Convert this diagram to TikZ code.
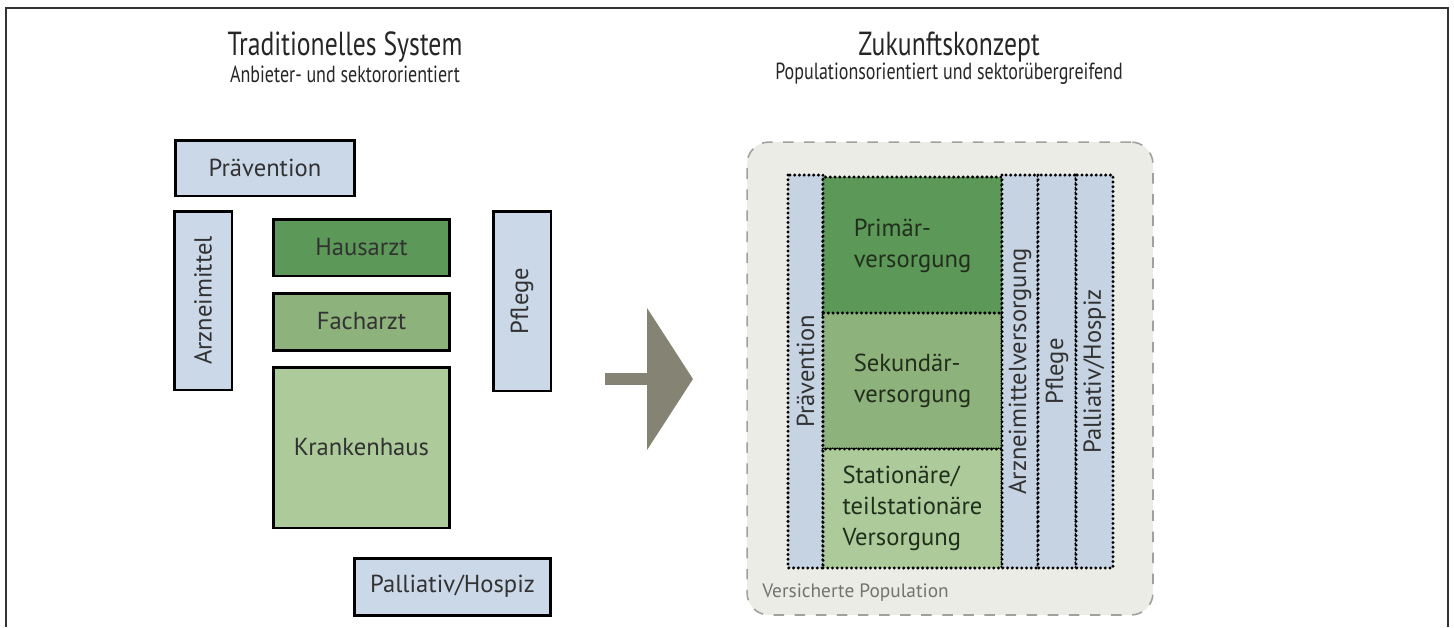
\documentclass[tikz,border=0pt]{standalone}
\usepackage{fontspec}
\setmainfont{PT Sans}
\newfontfamily\narrowfont[FakeStretch=0.77]{PT Sans}
\usepackage{xcolor}
\usetikzlibrary{arrows.meta}
\definecolor{boxblue}{RGB}{203,216,232}
\definecolor{colblue}{RGB}{198,211,226}
\definecolor{darkgreen}{RGB}{92,152,88}
\definecolor{midgreen}{RGB}{142,178,124}
\definecolor{lightgreen}{RGB}{172,202,154}
\definecolor{popgray}{RGB}{236,236,230}
\definecolor{dashgray}{RGB}{160,160,156}
\definecolor{arrowgray}{RGB}{133,131,115}
\definecolor{txtgray}{RGB}{50,50,50}
\definecolor{txtgreen}{RGB}{34,46,28}
\newcommand{\boxfont}{\fontsize{14}{16}\selectfont}
\newcommand{\colfont}{\fontsize{14}{17.5}\selectfont}

\begin{document}
\begin{tikzpicture}[x=0.02cm,y=-0.02cm]
\tikzstyle{every node}=[inner sep=0pt,text=txtgray]
\tikzstyle{oldbox}=[draw=black,line width=1.7pt,fill=boxblue,font=\boxfont]
\tikzstyle{newbox}=[draw=black,line width=1.9pt,line cap=round,dash pattern=on 0pt off 2.7pt,font=\colfont]
\tikzstyle{head}=[font=\narrowfont\fontsize{19}{22}\selectfont,text=black!85]
\tikzstyle{subhead}=[font=\narrowfont\fontsize{13.3}{15}\selectfont,text=black!85]
\useasboundingbox (0,0) rectangle (1454,627);
\draw[line width=1.1pt,black!80] (6,627) -- (6,8) -- (1448,8) -- (1448,627);
% headings
\node[head] (h1) at (345,47) {Traditionelles System};
\node[subhead] (s1) at (345,74) {Anbieter- und sektororientiert};
\node[head] (h2) at (949,47) {Zukunftskonzept};
\node[subhead] (s2) at (949,74) {Populationsorientiert und sektorübergreifend};
% traditional system
\node[oldbox,minimum width=3.6cm,minimum height=1.12cm] (pv) at (265,168) {Prävention};
\node[oldbox,rotate=90,minimum width=3.58cm,minimum height=1.16cm] (am) at (203,300.5) {Arzneimittel};
\node[oldbox,fill=darkgreen,minimum width=3.54cm,minimum height=1.14cm] (ha) at (361.5,247.5) {Hausarzt};
\node[oldbox,fill=midgreen,minimum width=3.54cm,minimum height=1.14cm] (fa) at (361.5,321.5) {Facharzt};
\node[oldbox,fill=lightgreen,minimum width=3.54cm,minimum height=3.22cm] (kh) at (361.5,447.5) {Krankenhaus};
\node[oldbox,rotate=90,minimum width=3.6cm,minimum height=1.16cm] (pf) at (522,301) {Pflege};
\node[oldbox,minimum width=3.94cm,minimum height=1.14cm] (ph) at (452.5,586.5) {Palliativ/Hospiz};
% arrow
\coordinate (af) at (605,379);
\coordinate (at) at (693,379);
\draw[arrowgray,line width=6.8pt,-{Triangle[length=0.92cm,width=2.8cm]}] (af) -- (at);
% future concept
\node[draw=dashgray,line width=0.9pt,dash pattern=on 6pt off 6pt,fill=popgray,rounded corners=0.44cm,
  minimum width=8.12cm,minimum height=9.46cm] (vp) at (950,378.5) {};
\node[anchor=base west,font=\fontsize{11}{13}\selectfont,text=black!55] (vpl) at (762,597) {Versicherte Population};
\node[newbox,fill=colblue,rotate=90,minimum width=7.86cm,minimum height=0.7cm] (npv) at (805.5,371.5) {Prävention};
\node[newbox,fill=darkgreen,text=txtgreen,align=left,minimum width=3.58cm,minimum height=2.76cm] (pri) at (912.5,246) {Primär-\\versorgung};
\node[newbox,fill=midgreen,text=txtgreen,align=left,minimum width=3.58cm,minimum height=2.72cm] (sek) at (912.5,381) {Sekundär-\\versorgung};
\node[newbox,fill=lightgreen,text=txtgreen,align=left,minimum width=3.58cm,minimum height=2.38cm] (sta) at (912.5,508.5) {Stationäre/\\teilstationäre\\Versorgung};
\node[newbox,fill=colblue,rotate=90,minimum width=7.86cm,minimum height=0.72cm] (nam) at (1020,371.5) {Arzneimittelversorgung};
\node[newbox,fill=colblue,rotate=90,minimum width=7.86cm,minimum height=0.76cm] (npf) at (1057,371.5) {Pflege};
\node[newbox,fill=colblue,rotate=90,minimum width=7.86cm,minimum height=0.74cm] (nph) at (1094.5,371.5) {Palliativ/Hospiz};
\end{tikzpicture}
\end{document}
